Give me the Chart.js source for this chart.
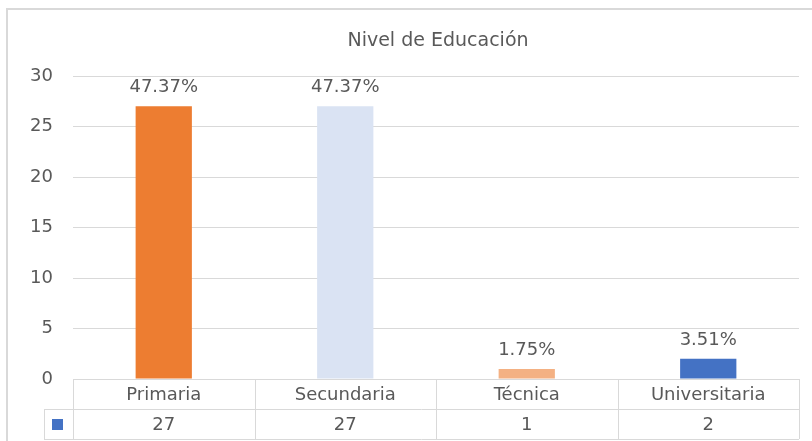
<!DOCTYPE html>
<html>
<head>
<meta charset="utf-8">
<script src="https://cdn.jsdelivr.net/npm/chart.js@4"></script>
<style>
  body { margin: 0; background: #fff; }
</style>
</head>
<body>
<canvas id="barChart" width="812" height="441"></canvas>
<script>
const labels = ['Primaria', 'Secundaria', 'Técnica', 'Universitaria'];
const values = [27, 27, 1, 2];
const barColors = ['#ED7D31', '#DAE3F3', '#F4B183', '#4472C4'];
const yTicks = [0, 5, 10, 15, 20, 25, 30];
const chartTitle = 'Nivel de Educación';

const total = values.reduce((a, b) => a + b, 0);
const textColor = '#595959';
const lineColor = '#d9d9d9';
const fontFamily = '"DejaVu Sans", sans-serif';

// title, value labels, data table and outer frame
const excelBits = {
  id: 'excelBits',
  afterDraw(chart) {
    const ctx = chart.ctx;
    const area = chart.chartArea;
    const xs = chart.scales.x;
    const meta = chart.getDatasetMeta(0);
    ctx.save();

    // frame
    ctx.strokeStyle = lineColor;
    ctx.lineWidth = 2;
    ctx.strokeRect(7, 9, 820, 450);

    // title
    ctx.fillStyle = textColor;
    ctx.font = '19px ' + fontFamily;
    ctx.textAlign = 'center';
    ctx.textBaseline = 'middle';
    ctx.fillText(chartTitle, (area.left + area.right) / 2 + 2, 41);

    // percentage labels
    ctx.font = '18px ' + fontFamily;
    ctx.textBaseline = 'alphabetic';
    meta.data.forEach((bar, i) => {
      const pct = (values[i] / total * 100).toFixed(2) + '%';
      ctx.fillText(pct, bar.x, bar.y - 14);
    });

    // data table
    const colW = (area.right - area.left) / labels.length;
    const top = area.bottom;
    const rowH = 30;
    const keyLeft = 44;
    ctx.strokeStyle = lineColor;
    ctx.lineWidth = 1;
    ctx.beginPath();
    ctx.moveTo(area.left, top + 0.5); ctx.lineTo(area.right, top + 0.5);
    ctx.moveTo(keyLeft, top + rowH + 0.5); ctx.lineTo(area.right, top + rowH + 0.5);
    ctx.moveTo(keyLeft, top + 2 * rowH + 0.5); ctx.lineTo(area.right, top + 2 * rowH + 0.5);
    ctx.moveTo(keyLeft + 0.5, top + rowH); ctx.lineTo(keyLeft + 0.5, top + 2 * rowH);
    for (let i = 0; i <= labels.length; i++) {
      const x = Math.round(area.left + i * colW) + 0.5;
      ctx.moveTo(x, top); ctx.lineTo(x, top + 2 * rowH);
    }
    ctx.stroke();

    ctx.fillStyle = textColor;
    ctx.textBaseline = 'middle';
    labels.forEach((lab, i) => {
      const cx = xs.getPixelForValue(i);
      ctx.fillText(lab, cx, top + rowH / 2 + 1);
      ctx.fillText(String(values[i]), cx, top + rowH * 1.5 + 1);
    });

    // legend key
    ctx.fillStyle = '#4472C4';
    ctx.fillRect(52, top + rowH + 10, 11, 11);
    ctx.restore();
  }
};

const config = {
  type: 'bar',
  data: {
    labels: labels,
    datasets: [{
      data: values,
      backgroundColor: barColors,
      barPercentage: 0.31,
      categoryPercentage: 1
    }]
  },
  options: {
    responsive: false,
    animation: false,
    devicePixelRatio: 1,
    layout: { padding: { left: 8, top: 76, right: 13, bottom: 62 } },
    plugins: {
      legend: { display: false },
      title: { display: false },
      tooltip: { enabled: false }
    },
    scales: {
      x: { display: false },
      y: {
        min: 0,
        max: 30,
        afterFit(scale) { scale.width = 65; },
        afterBuildTicks(scale) { scale.ticks = yTicks.map(v => ({ value: v })); },
        grid: { color: lineColor, drawTicks: false },
        border: { display: false },
        ticks: {
          padding: 20,
          color: textColor,
          font: { family: 'DejaVu Sans', size: 18 }
        }
      }
    }
  },
  plugins: [excelBits]
};

const barChart = new Chart(document.getElementById('barChart'), config);
</script>
</body>
</html>
